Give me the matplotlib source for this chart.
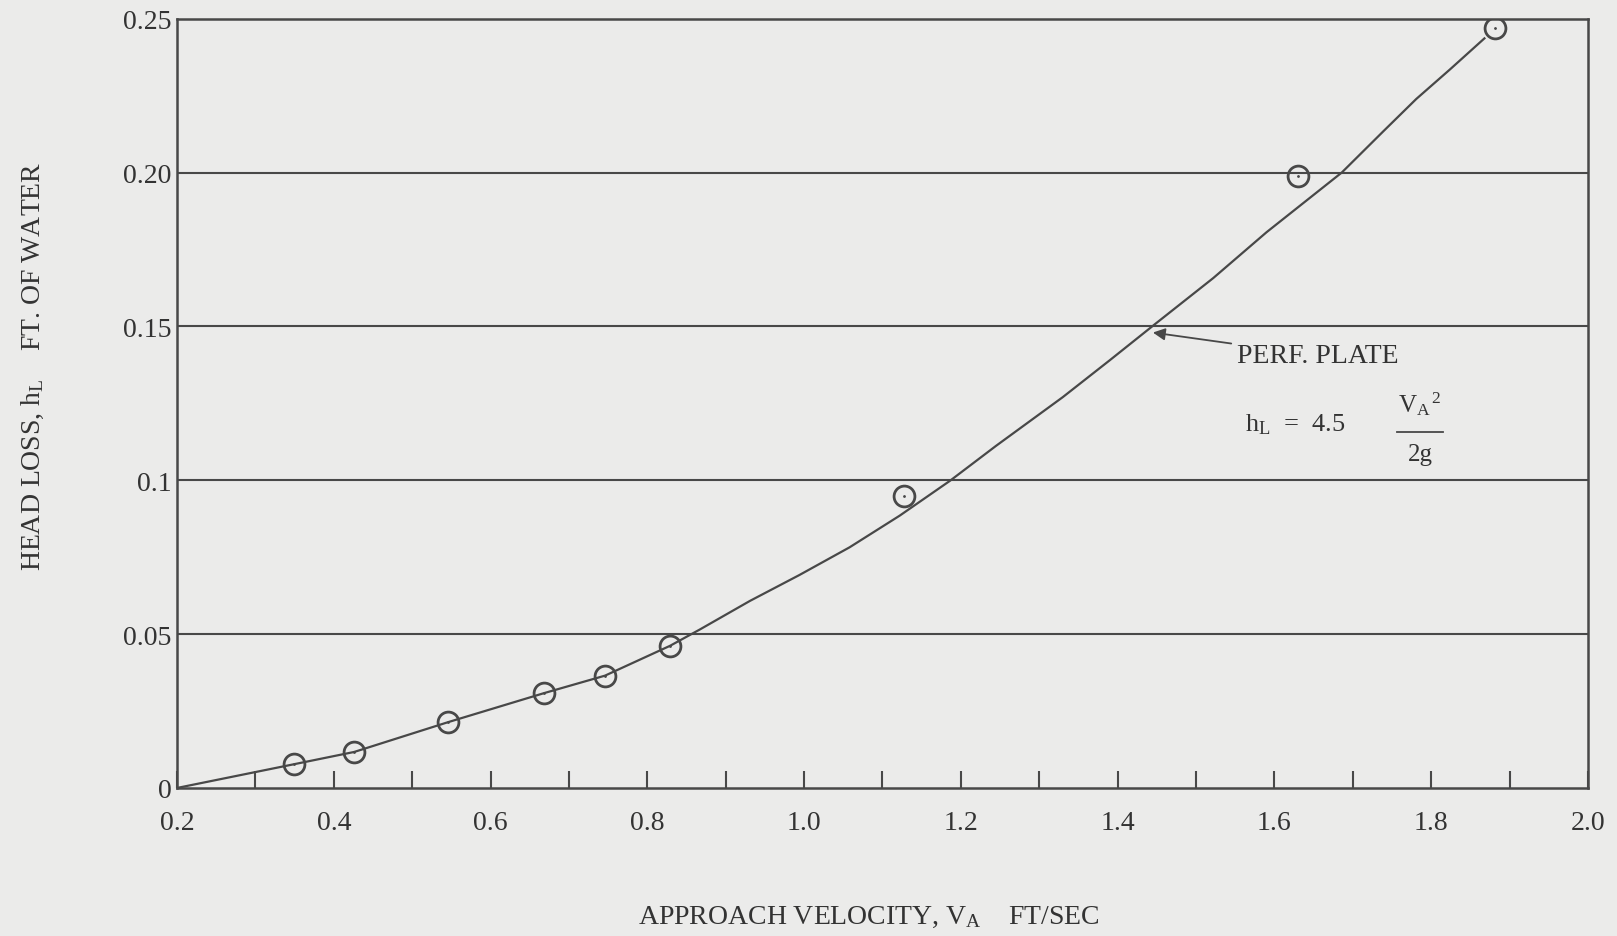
import matplotlib.pyplot as plt

# test points (open circles)
velocity_pts = [0.349, 0.426, 0.546, 0.668, 0.746, 0.829, 1.128, 1.630, 1.882]
headloss_pts = [0.0077, 0.0117, 0.0214, 0.0308, 0.0365, 0.0462, 0.0948, 0.199, 0.247]

# faired curve "PERF. PLATE"
curve_v = [0.20, 0.349, 0.426, 0.546, 0.668, 0.746, 0.829, 0.867, 0.931, 0.994,
           1.058, 1.122, 1.186, 1.245, 1.330, 1.390, 1.449, 1.522, 1.590, 1.686,
           1.739, 1.781, 1.824, 1.868]
curve_h = [0.0, 0.0077, 0.0117, 0.0214, 0.0308, 0.0365, 0.0462, 0.0515, 0.0608, 0.0692,
           0.0782, 0.0885, 0.0998, 0.1112, 0.127, 0.139, 0.151, 0.1657, 0.1806, 0.200,
           0.2134, 0.2239, 0.2335, 0.2436]

x_ticks = [0.2, 0.4, 0.6, 0.8, 1.0, 1.2, 1.4, 1.6, 1.8, 2.0]
x_labels = ["0.2", "0.4", "0.6", "0.8", "1.0", "1.2", "1.4", "1.6", "1.8", "2.0"]
y_ticks = [0, 0.05, 0.10, 0.15, 0.20, 0.25]
y_labels = ["0", "0.05", "0.1", "0.15", "0.20", "0.25"]

paper = "#ebebea"
ink = "#484848"
text_ink = "#333333"

plt.rcParams["font.family"] = ["Liberation Serif", "DejaVu Serif"]
plt.rcParams["mathtext.fontset"] = "custom"
plt.rcParams["mathtext.rm"] = "Liberation Serif"
plt.rcParams["mathtext.it"] = "Liberation Serif"

fig = plt.figure(figsize=(16.17, 9.37), dpi=100, facecolor=paper)
ax = fig.add_axes([0.1095, 0.158, 0.8725, 0.821])
ax.set_facecolor(paper)

ax.plot(curve_v, curve_h, color=ink, linewidth=1.6, zorder=3)
ax.plot(velocity_pts, headloss_pts, linestyle="none", marker="o", markersize=15,
        markerfacecolor="none", markeredgecolor=ink, markeredgewidth=2.0, zorder=4)
ax.plot(velocity_pts, headloss_pts, linestyle="none", marker=".", markersize=2,
        color=ink, zorder=4)

ax.set_xlim(0.2, 2.0)
ax.set_ylim(0, 0.25)
ax.set_xticks(x_ticks)
ax.set_xticklabels(x_labels, fontsize=20, color=text_ink)
ax.set_xticks([0.3, 0.5, 0.7, 0.9, 1.1, 1.3, 1.5, 1.7, 1.9], minor=True)
ax.set_yticks(y_ticks)
ax.set_yticklabels(y_labels, fontsize=20, color=text_ink)
ax.tick_params(axis="x", which="both", direction="in", length=12, width=1.5,
               color=ink, pad=16)
ax.tick_params(axis="y", length=0, pad=4)

for y in y_ticks[1:-1]:
    ax.axhline(y, color=ink, linewidth=1.5, zorder=1)
for s in ax.spines.values():
    s.set_color(ink)
    s.set_linewidth(1.8)

ax.set_xlabel(r"APPROACH VELOCITY, V$_\mathrm{A}$    FT/SEC", fontsize=20,
              color=text_ink)
ax.xaxis.set_label_coords(0.49, -0.151)
ax.set_ylabel(r"HEAD LOSS, h$_\mathrm{L}$    FT. OF WATER", fontsize=20,
              color=text_ink)
ax.yaxis.set_label_coords(-0.093, 0.55)

ax.annotate("PERF. PLATE", xy=(1.445, 0.148), xytext=(1.552, 0.1405),
            fontsize=20, color=text_ink, va="center",
            arrowprops=dict(arrowstyle="-|>", color=ink, lw=1.3,
                            mutation_scale=18, shrinkA=2, shrinkB=0))
ax.text(1.563, 0.1185, r"h$_\mathrm{L}$  =  4.5", fontsize=19, color=text_ink,
        va="center")
ax.text(1.785, 0.1250, r"V$_\mathrm{A}$$^{\,2}$", fontsize=18, color=text_ink,
        ha="center", va="center")
ax.plot([1.757, 1.815], [0.1158, 0.1158], color=ink, linewidth=1.3)
ax.text(1.786, 0.1085, "2g", fontsize=18, color=text_ink, ha="center", va="center")

fig.savefig("out.png", dpi=100, facecolor=paper)
